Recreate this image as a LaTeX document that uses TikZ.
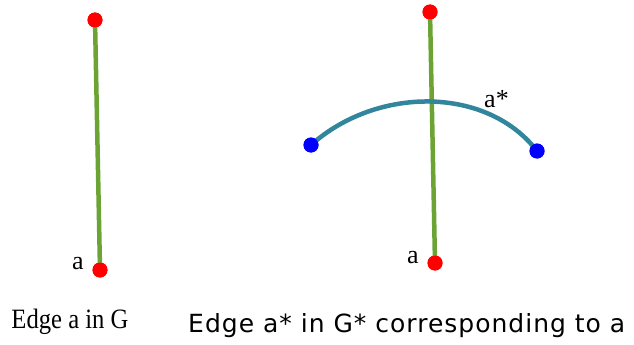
\documentclass[tikz,border=0pt]{standalone}
\usepackage{fontspec}
\setmainfont{Liberation Serif}
\newfontfamily\capsans[LetterSpace=4]{DejaVu Sans}
\usetikzlibrary{positioning}
\definecolor{EdgeGreen}{HTML}{6BA434}
\definecolor{DualTeal}{HTML}{31859C}
\definecolor{DotRed}{HTML}{FF0000}
\definecolor{DotBlue}{HTML}{0000FF}

\begin{document}
\begin{tikzpicture}[
      x=1pt,y=-1pt,
      reddot/.style={circle,fill=DotRed,inner sep=0pt,minimum size=15pt},
      bluedot/.style={circle,fill=DotBlue,inner sep=0pt,minimum size=15pt},
      edg/.style={draw=EdgeGreen,line width=4.5pt},
      dual/.style={draw=DualTeal,line width=4.5pt},
      lbl/.style={font=\fontsize{26}{28}\selectfont,inner sep=0pt,anchor=base}
    ]
      \useasboundingbox (0,0) rectangle (634,345);
      % edge a in G
      \node[reddot] (gtop) at (95,20) {};
      \node[reddot] (gbot) at (100,270) {};
      \draw[edg] (gtop.center) -- (gbot.center);
      \node[reddot] at (gtop) {};
      \node[reddot] at (gbot) {};
      \node[lbl] (la) at (78,269) {a};
      % dual edge a*
      \node[reddot] (htop) at (430,12) {};
      \node[reddot] (hbot) at (435,263) {};
      \node[bluedot] (fl) at (311,145) {};
      \node[bluedot] (fr) at (537,151) {};
      \draw[edg] (htop.center) -- (hbot.center);
      \draw[dual] (fl.center) .. controls (377,86) and (487,86) .. (fr.center);
      \node[reddot] at (htop) {};
      \node[reddot] at (hbot) {};
      \node[bluedot] at (fl) {};
      \node[bluedot] at (fr) {};
      \node[lbl] (lb) at (413,263) {a};
      \node[lbl,anchor=base west] (lstar) at (484,107) {a*};
      % captions
      \node[font=\fontsize{28}{30}\selectfont,inner sep=0pt,anchor=base,xscale=0.88] (capg) at (70,328) {Edge a in G};
      \node[font=\capsans\fontsize{25}{28}\selectfont,inner sep=0pt,anchor=base west] (capd) at (188,332) {Edge a* in G* corresponding to a};
    \end{tikzpicture}
\end{document}
